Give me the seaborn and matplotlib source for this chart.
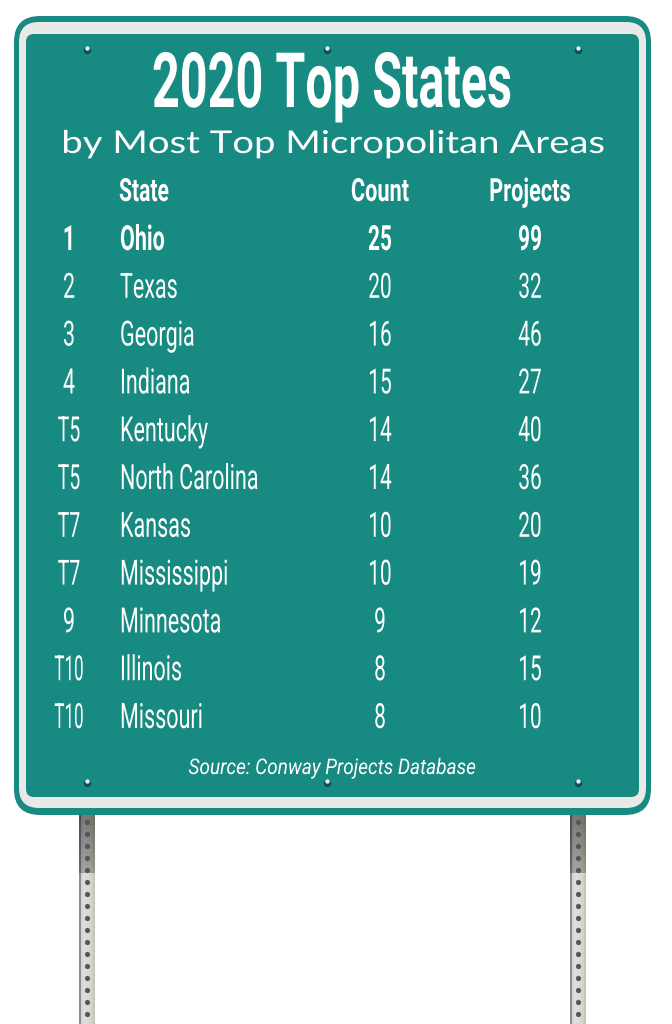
import numpy as np
import pandas as pd
import matplotlib
matplotlib.use('Agg')
import matplotlib.pyplot as plt
from matplotlib.patches import FancyBboxPatch
from matplotlib.patheffects import AbstractPathEffect
from matplotlib.transforms import Affine2D
import seaborn as sns

# datos de la tabla
ranks = ['1', '2', '3', '4', 'T5', 'T5', 'T7', 'T7', '9', 'T10', 'T10']
states = ['Ohio', 'Texas', 'Georgia', 'Indiana', 'Kentucky', 'North Carolina',
          'Kansas', 'Mississippi', 'Minnesota', 'Illinois', 'Missouri']
counts = [25, 20, 16, 15, 14, 14, 10, 10, 9, 8, 8]
projects = [99, 32, 46, 27, 40, 36, 20, 19, 12, 15, 10]

TEAL = '#178a82'
LIGHT = '#e9e9e9'

sns.set_theme(style='white')

df = pd.DataFrame({'rank': ranks, 'state': states, 'count': counts, 'projects': projects})
df['y'] = 250 + df.index * 47.8

fig = plt.figure(figsize=(6.72, 10.24), dpi=100, facecolor='white')
ax = fig.add_axes([0, 0, 1, 1])
ax.set_xlim(0, 672)
ax.set_ylim(1024, 0)
ax.axis('off')


# no hay fuente condensada instalada: se estrecha el texto al dibujarlo
class Estrecho(AbstractPathEffect):
    def __init__(self, cx, sx):
        super().__init__()
        self.cx = cx
        self.sx = sx

    def draw_path(self, renderer, gc, tpath, affine, rgbFace=None):
        ajuste = Affine2D().translate(-self.cx, 0).scale(self.sx, 1).translate(self.cx, 0)
        renderer.draw_path(gc, tpath, affine + ajuste, rgbFace)


def texto(x, y, s, size, sx, family='Roboto', weight='normal', style='normal', ha='center'):
    t = ax.text(x, y, s, color='white', fontsize=size, family=family, fontweight=weight,
                style=style, ha=ha, va='baseline', zorder=8)
    t.set_path_effects([Estrecho(x, sx)])
    return t


def caja(x0, y0, x1, y1, r, color, z):
    ax.add_patch(FancyBboxPatch((x0 + r, y0 + r), x1 - x0 - 2 * r, y1 - y0 - 2 * r,
                                boxstyle=f'round,pad={r},rounding_size={r}',
                                fc=color, ec='none', zorder=z))


# postes
grad = np.array([[[0.55, 0.56, 0.58], [0.82, 0.84, 0.84], [0.86, 0.88, 0.87], [0.86, 0.87, 0.85],
                  [0.85, 0.86, 0.83], [0.84, 0.85, 0.81], [0.82, 0.82, 0.77], [0.78, 0.78, 0.72]]])
sombra = np.linspace(0.55, 0.74, 12).reshape(-1, 1, 1) * grad
for x0 in [79, 570]:
    ax.imshow(grad, extent=(x0, x0 + 16, 1024, 873), aspect='auto', zorder=1)
    ax.imshow(sombra, extent=(x0, x0 + 16, 873, 815), aspect='auto', zorder=1)
    ys = np.arange(822, 1024, 12)
    sns.scatterplot(x=np.full(len(ys), x0 + 8), y=ys, s=14, color='#55565a',
                    linewidth=0, ax=ax, zorder=2)
ax.set_xlim(0, 672)
ax.set_ylim(1024, 0)

# placa
caja(14, 16, 651, 815, 26, TEAL, 3)
caja(19, 22, 646, 808, 20, LIGHT, 4)
caja(26, 34, 639, 797, 8, TEAL, 5)

# tornillos
for bx in [87, 327, 578]:
    for by in [49, 782]:
        sns.scatterplot(x=[bx], y=[by + 1], s=28, color='#0d4f55', linewidth=0, ax=ax, zorder=6)
        sns.scatterplot(x=[bx], y=[by - 1], s=10, color='#e6f2f2', linewidth=0, ax=ax, zorder=7)

# titulos
texto(332, 107, '2020 Top States', 55, 0.635, weight='bold')
texto(333, 153, 'by Most Top Micropolitan Areas', 22.6, 1.22, family='Lato')

# encabezados
texto(119, 201, 'State', 23, 0.66, weight='bold', ha='left')
texto(380, 201, 'Count', 23, 0.68, weight='bold')
texto(530, 201, 'Projects', 23, 0.68, weight='bold')

# filas
sx_rank = {1: 0.62, 2: 0.56, 3: 0.49}
for i, row in df.iterrows():
    peso = 'bold' if i == 0 else 'normal'
    texto(69, row['y'], row['rank'], 25, sx_rank[len(row['rank'])], weight=peso)
    texto(120, row['y'], row['state'], 25, 0.62, weight=peso, ha='left')
    texto(380, row['y'], str(row['count']), 25, 0.6, weight=peso)
    texto(530, row['y'], str(row['projects']), 25, 0.6, weight=peso)

texto(332, 774, 'Source: Conway Projects Database', 15.5, 0.885, style='italic')

fig.savefig('out.png', dpi=100, facecolor='white')
